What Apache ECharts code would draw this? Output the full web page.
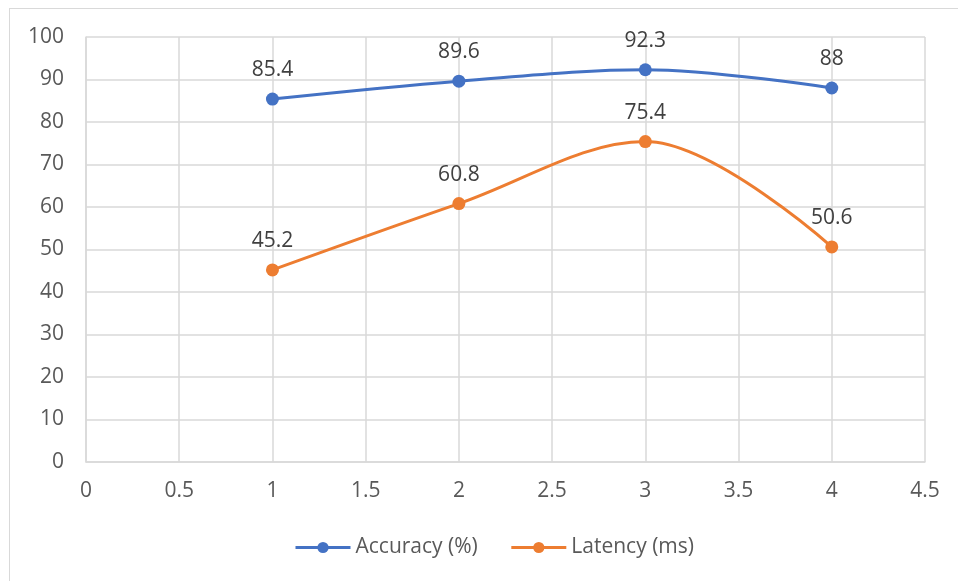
<!DOCTYPE html>
<html>
<head>
<meta charset="utf-8">
<script src="https://cdn.jsdelivr.net/npm/echarts@6/dist/echarts.min.js"></script>
<style>
  html, body { margin: 0; padding: 0; background: #fff; }
  #frame { position: absolute; left: 9px; top: 8px; width: 960px; height: 590px; border: 1px solid #d9d9d9; box-sizing: border-box; }
  #chart { position: absolute; left: 0; top: 0; width: 958px; height: 581px; }
</style>
</head>
<body>
<div id="frame"></div>
<div id="chart"></div>
<script>
// Run index (x) and measured values for each series
const xValues = [1, 2, 3, 4];
const accuracy = [85.4, 89.6, 92.3, 88];
const latency = [45.2, 60.8, 75.4, 50.6];
const seriesNames = ['Accuracy (%)', 'Latency (ms)'];

const FONT = '"Open Sans", Lato, sans-serif';
const TEXT = '#595959';

function pairs(xs, ys) { return xs.map((x, i) => [x, ys[i]]); }

function lineSeries(name, ys, color) {
  return {
    name: name,
    type: 'line',
    data: pairs(xValues, ys),
    smooth: 0.35,
    symbol: 'circle',
    symbolSize: 13,
    lineStyle: { color: color, width: 3 },
    itemStyle: { color: color },
    label: {
      show: true,
      position: 'top',
      distance: 12,
      color: '#404040',
      fontSize: 21,
      fontFamily: FONT
    }
  };
}

const chart = echarts.init(document.getElementById('chart'), null, { renderer: 'canvas' });
chart.setOption({
  animation: false,
  backgroundColor: 'transparent',
  grid: { left: 86, right: 33, top: 37, bottom: 119, containLabel: false },
  xAxis: {
    type: 'value',
    min: 0, max: 4.5, interval: 0.5,
    axisLine: { show: true, lineStyle: { color: '#d9d9d9', width: 1.5 } },
    axisTick: { show: false },
    splitLine: { show: true, lineStyle: { color: '#d9d9d9', width: 1.5 } },
    axisLabel: { color: TEXT, fontSize: 21, fontFamily: FONT, margin: 19 }
  },
  yAxis: {
    type: 'value',
    min: 0, max: 100, interval: 10,
    axisLine: { show: true, lineStyle: { color: '#d9d9d9', width: 1.5 } },
    axisTick: { show: false },
    splitLine: { show: true, lineStyle: { color: '#d9d9d9', width: 1.5 } },
    axisLabel: { color: TEXT, fontSize: 21, fontFamily: FONT, margin: 22 }
  },
  legend: {
    top: 532,
    left: 289,
    itemWidth: 55,
    itemHeight: 14,
    itemGap: 32,
    lineStyle: { width: 3 },
    textStyle: { color: TEXT, fontSize: 21, fontFamily: FONT },
    data: seriesNames
  },
  series: [
    lineSeries(seriesNames[0], accuracy, '#4472c4'),
    lineSeries(seriesNames[1], latency, '#ed7d31')
  ]
});
</script>
</body>
</html>
